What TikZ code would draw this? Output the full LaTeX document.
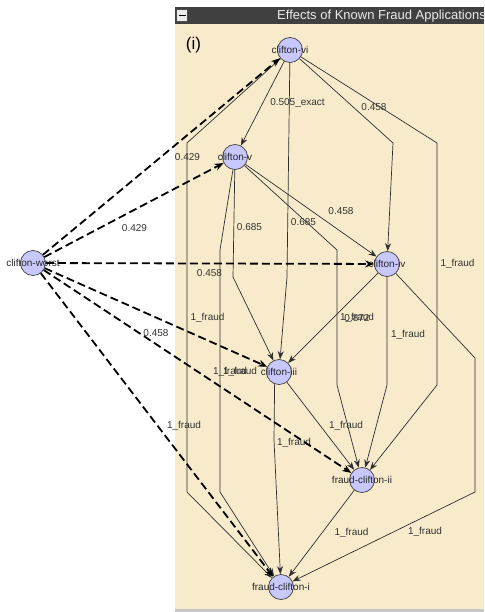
\documentclass[tikz,border=0pt]{standalone}
\usepackage{fontspec}
\setmainfont{Liberation Sans}
\usetikzlibrary{arrows.meta}
\definecolor{panelc}{HTML}{F7EBCB}
\definecolor{nodefill}{HTML}{C8C8FF}
\definecolor{barc}{HTML}{404040}
\definecolor{edgec}{HTML}{2E2E2E}
\begin{document}
\begin{tikzpicture}[x=1pt,y=-1pt,
  vertex/.style={circle, draw=black!75, fill=nodefill, minimum size=25pt, inner sep=0pt, line width=0.7pt},
  ntext/.style={font=\fontsize{10}{12}\selectfont, text=black!85, inner sep=0pt},
  elab/.style={font=\fontsize{10}{12}\selectfont, text=black!80, inner sep=0pt},
  sedge/.style={draw=edgec, line width=0.7pt, -{Stealth[length=8pt,width=6pt]}},
  dedge/.style={draw=black, line width=1.8pt, dash pattern=on 8pt off 4pt, -{Stealth[length=9pt,width=7pt]}}
]
\useasboundingbox (0,0) rectangle (484,612);
\fill[white] (0,0) rectangle (484,612);
% panel
\fill[panelc] (175,24) rectangle (484,609);
\fill[black!22] (175,609) rectangle (484,612);
\fill[barc] (175,7) rectangle (484,24);
\draw[fill=white!92!black, draw=black!70, line width=0.6pt] (176.5,9.5) rectangle (187.5,21.5);
\draw[line width=1.6pt] (178.5,15.5) -- (185.5,15.5);
\node[anchor=base west, inner sep=0pt, font=\fontsize{13}{15}\selectfont, text=white!92!black] (title) at (277,19.5) {Effects of Known Fraud Applications};
\node[inner sep=0pt, font=\fontsize{17}{19}\selectfont] (tag) at (193.5,45) {(i)};

% nodes
\node[vertex, label={[ntext]center:clifton-vi}] (vi) at (290,50) {};
\node[vertex, label={[ntext]center:clifton-v}] (v) at (235,157) {};
\node[vertex, label={[ntext]center:clifton-worst}] (worst) at (33,263) {};
\node[vertex, label={[ntext]center:clifton-iv}] (iv) at (387,264) {};
\node[vertex, label={[ntext]center:clifton-iii}] (iii) at (279,372) {};
\node[vertex, label={[ntext]center:fraud-clifton-ii}] (fcii) at (362,480) {};
\node[vertex, label={[ntext]center:fraud-clifton-i}] (fci) at (281,587) {};

% bend points
\coordinate (a1) at (287,277);
\coordinate (a2) at (393,143);
\coordinate (a3) at (437,143);
\coordinate (a4) at (437,385);
\coordinate (a5) at (187,143);
\coordinate (a6) at (187,492);
\coordinate (b1) at (233,277);
\coordinate (b2) at (337,250);
\coordinate (b3) at (337,385);
\coordinate (b4) at (220,250);
\coordinate (b5) at (220,492);
\coordinate (c1) at (387,385);
\coordinate (c2) at (475,358);
\coordinate (c3) at (475,492);
\coordinate (d1) at (274,440);

% edge labels
\node[elab] (l1) at (187.5,157) {0.429};
\node[elab] (l2) at (134.5,228) {0.429};
\node[elab] (l3) at (209.5,273) {0.458};
\node[elab] (l4) at (156,333) {0.458};
\node[elab] (l5) at (294,443) {1\_fraud};
\node[elab] (l6) at (184,426) {1\_fraud};
\node[elab] (l7) at (297.5,103) {0.505\_exact};
\node[elab] (l8) at (374,107) {0.458};
\node[elab] (l9) at (457.5,264) {1\_fraud};
\node[elab] (l10) at (341,211) {0.458};
\node[elab] (l11) at (249.5,227) {0.685};
\node[elab] (l12) at (303.5,222.5) {0.685};
\node[elab] (l13) at (207.5,318) {1\_fraud};
\node[elab] (l14) at (357,318) {0.872};
\node[elab] (l15) at (357,318) {1\_fraud};
\node[elab] (l16) at (408,335) {1\_fraud};
\node[elab] (l17) at (425,532) {1\_fraud};
\node[elab] (l18) at (346,426) {1\_fraud};
\node[elab] (l19) at (230,372) {1\_fraud};
\node[elab] (l20) at (240,372) {1\_fraud};
\node[elab] (l21) at (351.5,533) {1\_fraud};

% solid edges
\draw[sedge] (vi) -- (v);
\draw[sedge] (vi) -- (a1) -- (iii);
\draw[sedge] (vi) -- (a2) -- (iv);
\draw[sedge] (vi) -- (a3) -- (a4) -- (fcii);
\draw[sedge] (vi) -- (a5) -- (a6) -- (fci);
\draw[sedge] (v) -- (iv);
\draw[sedge] (v) -- (b1) -- (iii);
\draw[sedge] (v) -- (b2) -- (b3) -- (fcii);
\draw[sedge] (v) -- (b4) -- (b5) -- (fci);
\draw[sedge] (iv) -- (iii);
\draw[sedge] (iv) -- (c1) -- (fcii);
\draw[sedge] (iv) -- (c2) -- (c3) -- (fci);
\draw[sedge] (iii) -- (fcii);
\draw[sedge] (iii.250) -- (d1) -- (fci);
\draw[sedge] (fcii) -- (fci);

% dashed edges
\draw[dedge] (worst) -- (vi);
\draw[dedge] (worst) -- (v);
\draw[dedge] (worst) -- (iv);
\draw[dedge] (worst) -- (iii);
\draw[dedge] (worst) -- (fcii);
\draw[dedge] (worst) -- (fci);
\end{tikzpicture}
\end{document}
